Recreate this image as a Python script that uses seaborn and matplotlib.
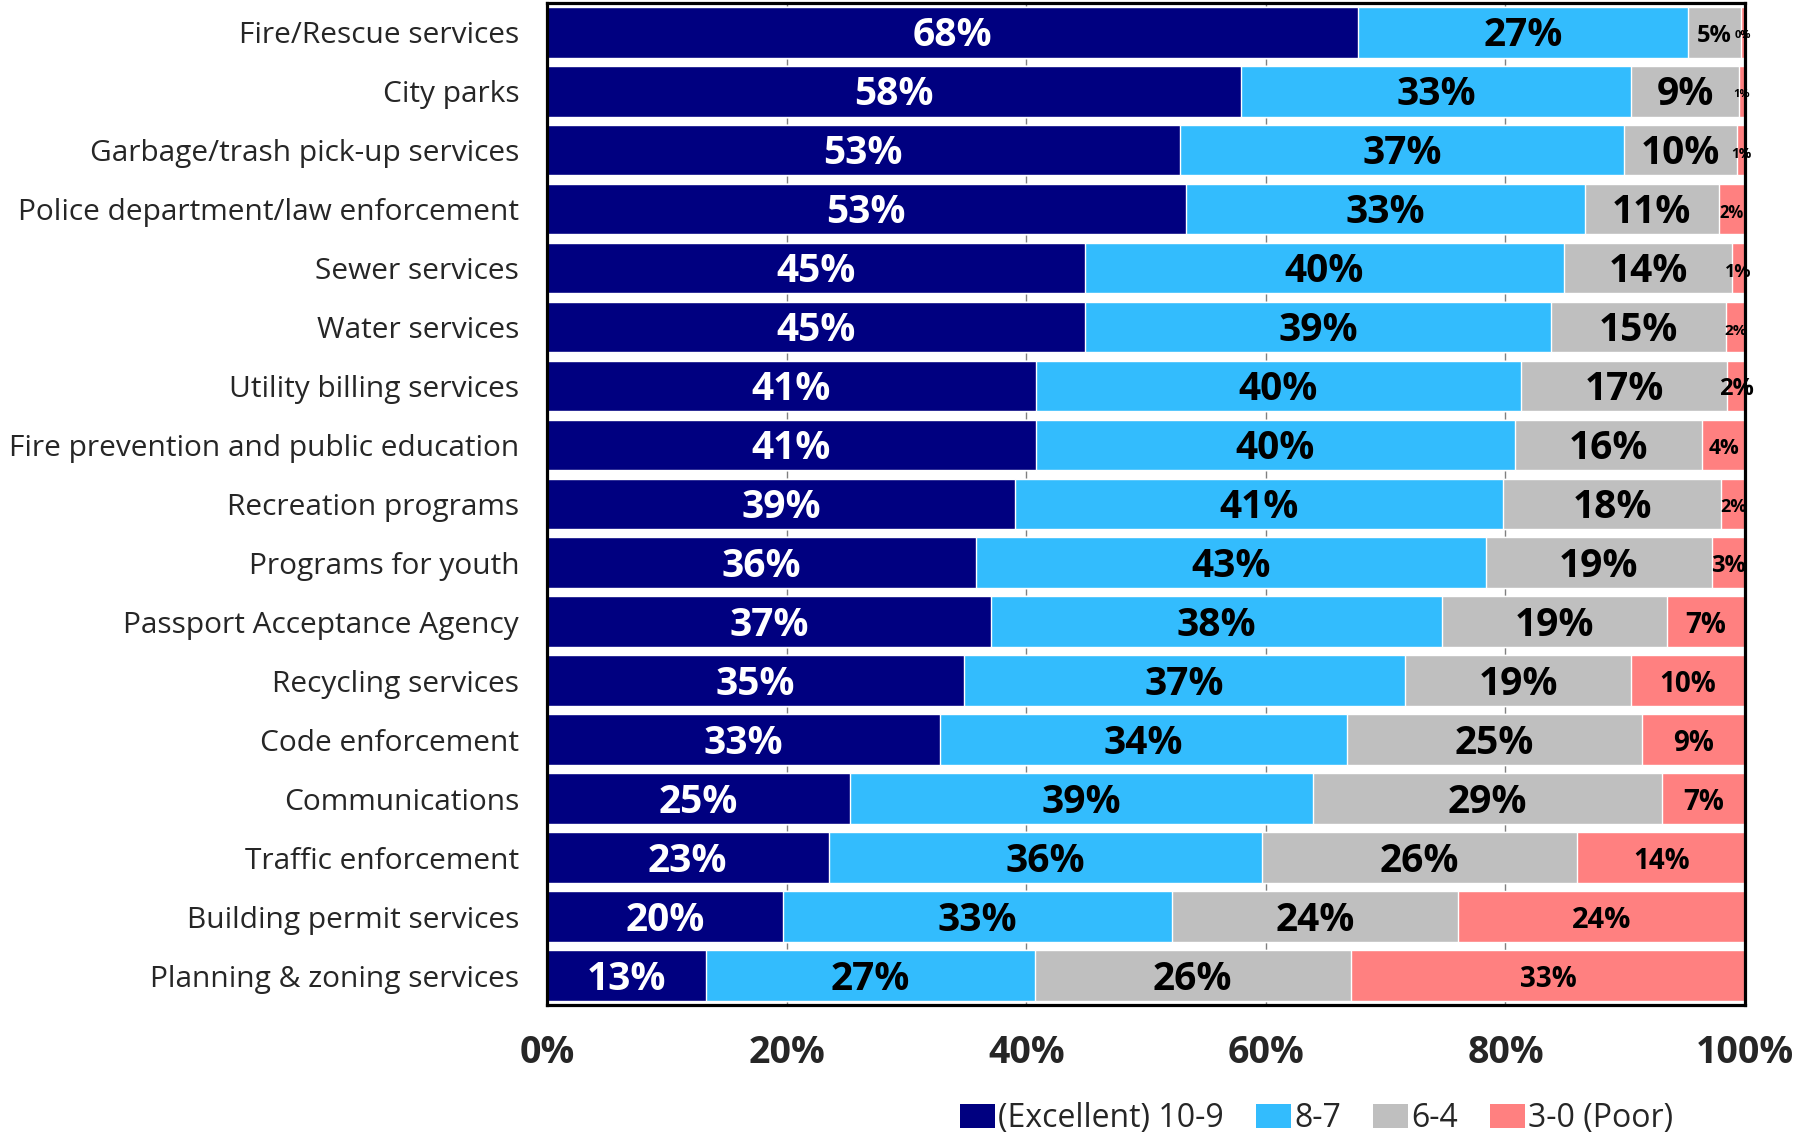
import numpy as np
import pandas as pd
import seaborn as sns
import matplotlib.pyplot as plt
from matplotlib.patches import Patch

# Data (percent of respondents)
services = ['Fire/Rescue services', 'City parks', 'Garbage/trash pick-up services',
            'Police department/law enforcement', 'Sewer services', 'Water services',
            'Utility billing services', 'Fire prevention and public education',
            'Recreation programs', 'Programs for youth', 'Passport Acceptance Agency',
            'Recycling services', 'Code enforcement', 'Communications',
            'Traffic enforcement', 'Building permit services', 'Planning & zoning services']
excellent = [67.7, 57.9, 52.8, 53.3, 44.9, 44.9, 40.8, 40.8, 39.1, 35.8, 37.1, 34.8, 32.8, 25.3, 23.5, 19.7, 13.3]
good = [27.5, 32.6, 37.1, 33.3, 40.0, 38.9, 40.5, 40.0, 40.7, 42.6, 37.6, 36.8, 34.0, 38.6, 36.2, 32.5, 27.4]
fair = [4.5, 9.0, 9.4, 11.2, 14.0, 14.6, 17.2, 15.6, 18.2, 18.8, 18.8, 18.9, 24.6, 29.2, 26.3, 23.8, 26.4]
poor = [0.3, 0.5, 0.7, 2.2, 1.1, 1.6, 1.5, 3.6, 2.0, 2.8, 6.5, 9.5, 8.6, 6.9, 14.0, 24.0, 32.9]

# the rounded numbers printed on the bars
lab_excellent = [68, 58, 53, 53, 45, 45, 41, 41, 39, 36, 37, 35, 33, 25, 23, 20, 13]
lab_good = [27, 33, 37, 33, 40, 39, 40, 40, 41, 43, 38, 37, 34, 39, 36, 33, 27]
lab_fair = [5, 9, 10, 11, 14, 15, 17, 16, 18, 19, 19, 19, 25, 29, 26, 24, 26]
lab_poor = [0, 1, 1, 2, 1, 2, 2, 4, 2, 3, 7, 10, 9, 7, 14, 24, 33]

levels = ['(Excellent) 10-9', '8-7', '6-4', '3-0 (Poor)']
colors = ['#000080', '#33BCFD', '#BFBFBF', '#FF8080']
text_colors = ['white', 'black', 'black', 'black']

sns.set_theme(style='white')
plt.rcParams['font.family'] = ['Open Sans', 'DejaVu Sans']

df = pd.DataFrame({'service': services, 'excellent': excellent, 'good': good,
                   'fair': fair, 'poor': poor})
seg_cols = ['excellent', 'good', 'fair', 'poor']
cum = df[seg_cols].cumsum(axis=1)

fig = plt.figure(figsize=(17.97, 11.36), dpi=100)
ax = fig.add_axes([0.3044, 0.1153, 0.6667, 0.8823])

# stacked bars: draw cumulative totals from the longest to the shortest
for col, c in reversed(list(zip(seg_cols, colors))):
    sns.barplot(x=cum[col], y=df['service'], color=c, orient='h', width=0.86,
                saturation=1, ax=ax, zorder=2)

# labels inside the segments
labels = [lab_excellent, lab_good, lab_fair, lab_poor]
poor_sizes = [8, 8, 10, 12, 13, 11, 17, 15, 13, 17, 20, 20, 20, 20, 20, 21, 20]
for i in range(len(services)):
    left = 0
    for j, col in enumerate(seg_cols):
        w = df[col][i]
        if j == 3:
            fs = poor_sizes[i]
        elif j == 2 and i == 0:
            fs = 17
        else:
            fs = 28
        ax.text(left + w / 2, i + 0.06, f'{labels[j][i]}%', ha='center', va='center',
                color=text_colors[j], fontsize=fs, fontweight='bold',
                clip_on=False, zorder=5)
        left += w

ax.set_xlim(0, 100)
ax.set_ylim(16.5, -0.5)
ax.set_xticks([0, 20, 40, 60, 80, 100])
ax.set_xticklabels([f'{t}%' for t in [0, 20, 40, 60, 80, 100]], fontsize=27, fontweight='bold')
ax.tick_params(axis='x', length=0, pad=21)
ax.tick_params(axis='y', length=0, pad=20, labelsize=21.5)
ax.set_xlabel('')
ax.set_ylabel('')
ax.set_axisbelow(True)
ax.xaxis.grid(True, color='#808080', linewidth=1)
ax.yaxis.grid(False)
for s in ax.spines.values():
    s.set_visible(True)
    s.set_color('black')
    s.set_linewidth(2.3)

handles = [Patch(facecolor=c, edgecolor='none', label=l) for c, l in zip(colors, levels)]
fig.legend(handles=handles, loc='center left', bbox_to_anchor=(0.534, 0.0155),
           ncol=4, frameon=False, fontsize=23, handlelength=1.1, handleheight=0.8,
           handletextpad=0.1, columnspacing=1.0, borderaxespad=0, borderpad=0)

fig.savefig('out.png', dpi=100)
